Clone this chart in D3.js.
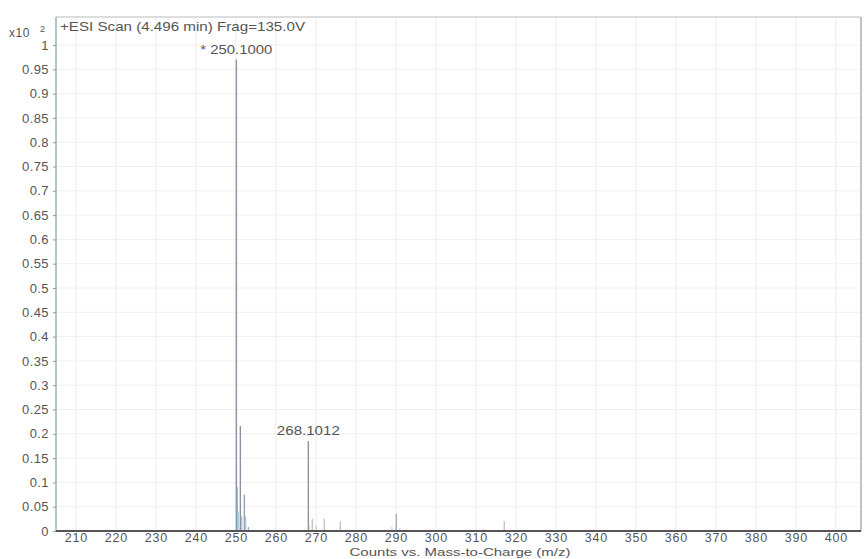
<!DOCTYPE html>
<html><head><meta charset="utf-8">
<script src="https://cdn.jsdelivr.net/npm/d3@7/dist/d3.min.js"></script>
<style>body{margin:0;background:#fff}svg{display:block}text{font-family:"Liberation Sans",Arial,sans-serif;fill:#555}</style>
</head><body><svg id="c" width="864" height="559"></svg>
<script>
// Peaks: m/z and relative counts (x10^2)
const peakMz   = [250.10, 250.30, 250.55, 251.10, 251.45, 252.10, 252.40, 253.1, 268.10, 268.4, 269.1, 270.1, 272.1, 276.1, 289.0, 290.1, 291.0, 312.0, 317.1];
const peakVal  = [0.970, 0.090, 0.040, 0.216, 0.030, 0.075, 0.030, 0.008, 0.185, 0.010, 0.025, 0.010, 0.025, 0.020, 0.008, 0.035, 0.006, 0.005, 0.020];
const peakCol  = ["#8a96a8","#7fa9c8","#9fd0d8","#8a92a0","#a8c8e0","#9aa0ac","#b0c4d8","#aaa","#8f939c","#d8e8a0","#c0c4cc","#c8ccd4","#c0c4cc","#c0c4cc","#d0d4dc","#a8acb4","#d0d4dc","#d8dce0","#c0c4cc"];
const xTicks   = [210,220,230,240,250,260,270,280,290,300,310,320,330,340,350,360,370,380,390,400];
const yTicks   = d3.range(0, 21).map(i => +(i*0.05).toFixed(2));
const labels   = [{mz:250.10, v:0.970, t:"* 250.1000"}, {mz:268.10, v:0.185, t:"268.1012"}];

const FONT = '"Liberation Sans",Arial,sans-serif';
const svg = d3.select("#c");
const L = 56, R = 861, T = 17, B = 531;
const x = d3.scaleLinear().domain([205, 406.3]).range([L, R]);
const y = d3.scaleLinear().domain([0, 1]).range([B, 45]);

// grid
svg.append("g").selectAll("line").data(xTicks).join("line")
  .attr("x1", d => x(d)).attr("x2", d => x(d)).attr("y1", T).attr("y2", B)
  .attr("stroke", "#ececec").attr("stroke-width", 1);
svg.append("g").selectAll("line").data(yTicks.slice(1)).join("line")
  .attr("x1", L).attr("x2", R).attr("y1", d => y(d)).attr("y2", d => y(d))
  .attr("stroke", "#f0f0f0").attr("stroke-width", 1);

// frame
svg.append("line").attr("x1", L).attr("x2", R).attr("y1", T).attr("y2", T).attr("stroke", "#bbb");
svg.append("line").attr("x1", L).attr("x2", L).attr("y1", T).attr("y2", B).attr("stroke", "#8fa8a8").attr("stroke-width", 1.3);
svg.append("line").attr("x1", R).attr("x2", R).attr("y1", T).attr("y2", B).attr("stroke", "#9aaa9a").attr("stroke-width", 1.3);

// peaks
svg.append("g").selectAll("line").data(peakMz).join("line")
  .attr("x1", d => x(d)).attr("x2", d => x(d))
  .attr("y1", B).attr("y2", (d, i) => y(peakVal[i]))
  .attr("stroke", (d, i) => peakCol[i]).attr("stroke-width", 1.4);

// bottom axis line
svg.append("line").attr("x1", L).attr("x2", R).attr("y1", B).attr("y2", B).attr("stroke", "#555").attr("stroke-width", 2);

// y axis ticks
const gy = svg.append("g").attr("transform", `translate(${L},0)`).call(
  d3.axisLeft(y).tickValues(yTicks).tickSize(3).tickFormat(d => d3.format("~g")(d)));
gy.select(".domain").remove();
gy.selectAll("line").attr("stroke", "#999");
gy.selectAll("text").attr("font-size", 13).attr("x", -7).attr("letter-spacing", 0.4)
  .style("font-family", FONT).attr("fill", "#555");

// x axis
const gx = svg.append("g").attr("transform", `translate(0,${B})`).call(
  d3.axisBottom(x).tickValues(xTicks).tickSize(0).tickPadding(2));
gx.select(".domain").remove();
gx.selectAll("text").attr("font-size", 12.5).attr("letter-spacing", 0.8)
  .style("font-family", FONT).attr("fill", "#555");

// texts
svg.append("text").attr("x", 9).attr("y", 37).attr("font-size", 12).attr("letter-spacing", 0.5).text("x10");
svg.append("text").attr("x", 40).attr("y", 32).attr("font-size", 9).text("2");
svg.append("text").attr("x", 60).attr("y", 31).attr("font-size", 13)
  .attr("textLength", 245).attr("lengthAdjust", "spacingAndGlyphs").text("+ESI Scan (4.496 min) Frag=135.0V");
const lw = [72, 63];
svg.append("g").selectAll("text").data(labels).join("text")
  .attr("x", d => x(d.mz)).attr("y", d => y(d.v) - 6).attr("text-anchor", "middle")
  .attr("font-size", 13.5).attr("textLength", (d, i) => lw[i]).attr("lengthAdjust", "spacingAndGlyphs").text(d => d.t);
svg.append("text").attr("x", 460).attr("y", 556).attr("text-anchor", "middle").attr("font-size", 11)
  .attr("textLength", 221).attr("lengthAdjust", "spacingAndGlyphs")
  .text("Counts vs. Mass-to-Charge (m/z)");
</script></body></html>
